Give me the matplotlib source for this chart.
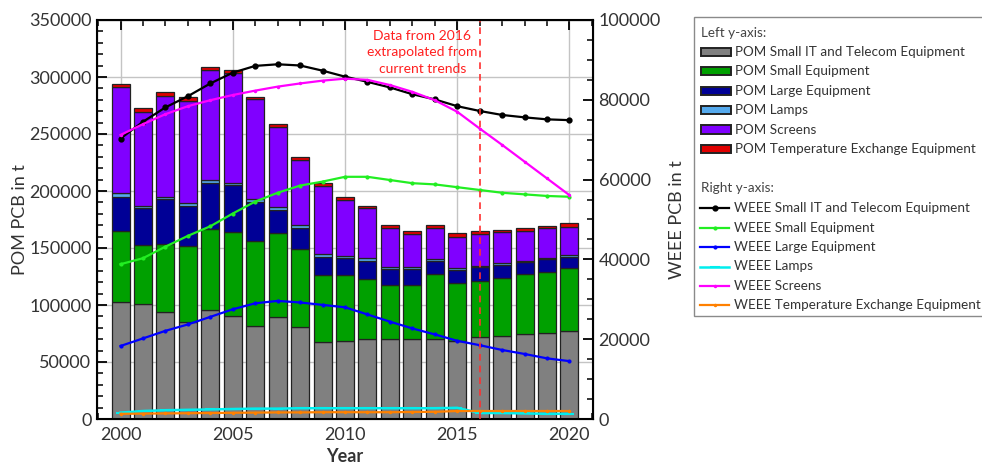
import matplotlib
matplotlib.use("Agg")
import matplotlib.pyplot as plt
from matplotlib.patches import Rectangle
from matplotlib.lines import Line2D
from matplotlib.ticker import MultipleLocator

plt.rcParams["font.family"] = ["Lato", "DejaVu Sans"]

years = list(range(2000, 2021))

# placed on market (left axis, stacked bars)
pom_small_it = [103000, 100500, 94000, 85500, 95500, 90000, 81500, 89500, 81000, 67500, 68500,
                70000, 70500, 70500, 70500, 68500, 71500, 72800, 74300, 75500, 76800]
pom_small = [61500, 52500, 59500, 66500, 71000, 74000, 75000, 73500, 68500, 58800, 57800,
             52800, 47000, 47000, 56500, 50500, 49800, 51200, 52700, 53800, 55700]
pom_large = [30500, 31800, 39200, 34800, 40800, 41000, 33900, 20500, 17800, 16100, 14700,
             15800, 14100, 14500, 12000, 11700, 11700, 11100, 10400, 11000, 9900]
pom_lamps = [3000, 2300, 2300, 2400, 2300, 2300, 2300, 2900, 2900, 2100, 2000,
             2400, 2000, 1000, 1100, 1500, 1200, 1500, 1200, 1200, 1500]
pom_screens = [93000, 82500, 88300, 90000, 96500, 96500, 87700, 69500, 56600, 59900, 49100,
               43800, 33700, 29300, 27200, 27700, 28100, 27200, 26300, 25800, 24800]
pom_temp = [2600, 2900, 3200, 3000, 2900, 2300, 2300, 2900, 3000, 2400, 2400,
            2300, 2900, 2900, 2900, 3000, 2600, 2000, 2900, 2300, 3000]

# waste arising (right axis, lines)
weee_small_it = [70300, 74500, 78100, 80900, 84100, 86800, 88500, 88900, 88600, 87300, 85800,
                 84500, 83100, 81400, 80100, 78400, 77200, 76200, 75600, 75100, 74900]
weee_small = [38800, 40300, 43200, 45900, 48300, 51500, 54500, 56700, 58500, 59500, 60700,
              60700, 59900, 59100, 58800, 58100, 57400, 56700, 56300, 55900, 55700]
weee_large = [18300, 20200, 22100, 23700, 25600, 27500, 29000, 29600, 29200, 28600, 28000,
              26200, 24400, 22700, 21200, 19600, 18500, 17300, 16300, 15200, 14500]
weee_lamps = [1600, 2000, 2200, 2300, 2400, 2500, 2600, 2600, 2700, 2700, 2700,
              2700, 2700, 2700, 2700, 2800, 1500, 1500, 1400, 1300, 1300]
weee_screens = [71200, 73900, 76400, 78400, 79900, 81200, 82300, 83300, 84100, 84800, 85300,
                85000, 83700, 82000, 79900, 77000, 72800, 68700, 64500, 60300, 56100]
weee_temp = [1300, 1350, 1400, 1450, 1500, 1550, 1600, 1650, 1650, 1700, 1700,
             1700, 1700, 1750, 1800, 2000, 2000, 2000, 2000, 2000, 2000]

bar_names = ["POM Small IT and Telecom Equipment", "POM Small Equipment", "POM Large Equipment",
             "POM Lamps", "POM Screens", "POM Temperature Exchange Equipment"]
bar_data = [pom_small_it, pom_small, pom_large, pom_lamps, pom_screens, pom_temp]
bar_colors = ["#808080", "#00a000", "#000096", "#55aaee", "#8000ff", "#e00000"]

line_names = ["WEEE Small IT and Telecom Equipment", "WEEE Small Equipment", "WEEE Large Equipment",
              "WEEE Lamps", "WEEE Screens", "WEEE Temperature Exchange Equipment"]
line_data = [weee_small_it, weee_small, weee_large, weee_lamps, weee_screens, weee_temp]
line_colors = ["black", "#22ee22", "#0000ff", "#00eeee", "#ff00ff", "#ff8000"]
line_markers = ["o", ".", ".", "_", ".", "."]
line_ms = [3, 3, 3, 7, 2, 2]
line_lw = [1.6, 1.6, 1.6, 1.8, 1.6, 1.6]

text_col = "#333333"
leg_size = 9.7

fig = plt.figure(figsize=(9.82, 4.68), dpi=100)
ax = fig.add_axes([97 / 982, 49 / 468, 496 / 982, 399 / 468])
ax2 = ax.twinx()

bottom = [0] * len(years)
for vals, col in zip(bar_data, bar_colors):
    ax.bar(years, vals, width=0.8, bottom=bottom, color=col, edgecolor="#222222", linewidth=0.9)
    bottom = [b + v for b, v in zip(bottom, vals)]

ax.set_xlim(1998.95, 2021.05)
ax.set_ylim(0, 350000)
ax.set_axisbelow(True)
ax.grid(True, which="major", color="#c4c4c4", linewidth=1.0)
ax.xaxis.set_major_locator(MultipleLocator(5))
ax.xaxis.set_minor_locator(MultipleLocator(1))
ax.yaxis.set_major_locator(MultipleLocator(50000))
ax.yaxis.set_minor_locator(MultipleLocator(10000))
ax.tick_params(axis="x", which="both", direction="in", top=True, bottom=True,
               labelsize=13, labelcolor=text_col, pad=6)
ax.tick_params(axis="y", which="both", direction="in", left=True, right=False,
               labelsize=13, labelcolor=text_col, pad=4)
ax.tick_params(which="major", length=7, width=1.3)
ax.tick_params(which="minor", length=4, width=1.1)
for s in ax.spines.values():
    s.set_linewidth(1.5)
ax.set_ylabel("POM PCB in t", fontsize=13, color=text_col, labelpad=1)
ax.set_xlabel("Year", fontsize=13, fontweight="bold", color=text_col, labelpad=3)

for vals, col, mk, ms, lw in zip(line_data, line_colors, line_markers, line_ms, line_lw):
    ax2.plot(years, vals, color=col, marker=mk, markersize=ms, linewidth=lw, markeredgewidth=1.5)

ax2.set_ylim(0, 100000)
ax2.yaxis.set_major_locator(MultipleLocator(20000))
ax2.yaxis.set_minor_locator(MultipleLocator(5000))
ax2.tick_params(axis="y", which="both", direction="in", right=True, left=False,
                labelsize=13, labelcolor=text_col, pad=4)
ax2.tick_params(which="major", length=7, width=1.3)
ax2.tick_params(which="minor", length=4, width=1.1)
ax2.set_ylabel("WEEE PCB in t", fontsize=13, color=text_col, labelpad=6)

# start of extrapolated data
ax2.axvline(2016, color="#ff3030", linestyle=(0, (4, 3)), linewidth=1.2)
ax2.text(2013.45, 97500, "Data from 2016\nextrapolated from\ncurrent trends", color="#ff2020",
         fontsize=10, ha="center", va="top", linespacing=1.45)

# legend box drawn by hand so the section headings sit flush left
def fx(x):
    return x / 982


def fy(y):
    return 1 - y / 468


fig.add_artist(Rectangle((fx(694), fy(316)), fx(400), (316 - 17) / 468, transform=fig.transFigure,
                         facecolor="white", edgecolor="#8a8a8a", linewidth=1.0))
fig.text(fx(701), fy(33), "Left y-axis:", fontsize=leg_size, color="#444444", va="center")
for i, (name, col) in enumerate(zip(bar_names, bar_colors)):
    yc = 51.7 + i * 19.45
    fig.add_artist(Rectangle((fx(701), fy(yc + 4)), fx(30), 8 / 468, transform=fig.transFigure,
                             facecolor=col, edgecolor="#222222", linewidth=1.4))
    fig.text(fx(735), fy(yc), name, fontsize=leg_size, color=text_col, va="center")

fig.text(fx(701), fy(188.3), "Right y-axis:", fontsize=leg_size, color="#444444", va="center")
for i, (name, col, mk, ms, lw) in enumerate(zip(line_names, line_colors, line_markers, line_ms, line_lw)):
    yc = 208.3 + i * 19.4
    fig.add_artist(Line2D([fx(700), fx(729)], [fy(yc), fy(yc)], transform=fig.transFigure,
                          color=col, linewidth=lw))
    fig.add_artist(Line2D([fx(714.5)], [fy(yc)], transform=fig.transFigure, color=col,
                          marker=mk, markersize=ms, markeredgewidth=1.5))
    fig.text(fx(734), fy(yc), name, fontsize=leg_size, color=text_col, va="center")

fig.savefig("out.png", dpi=100)
